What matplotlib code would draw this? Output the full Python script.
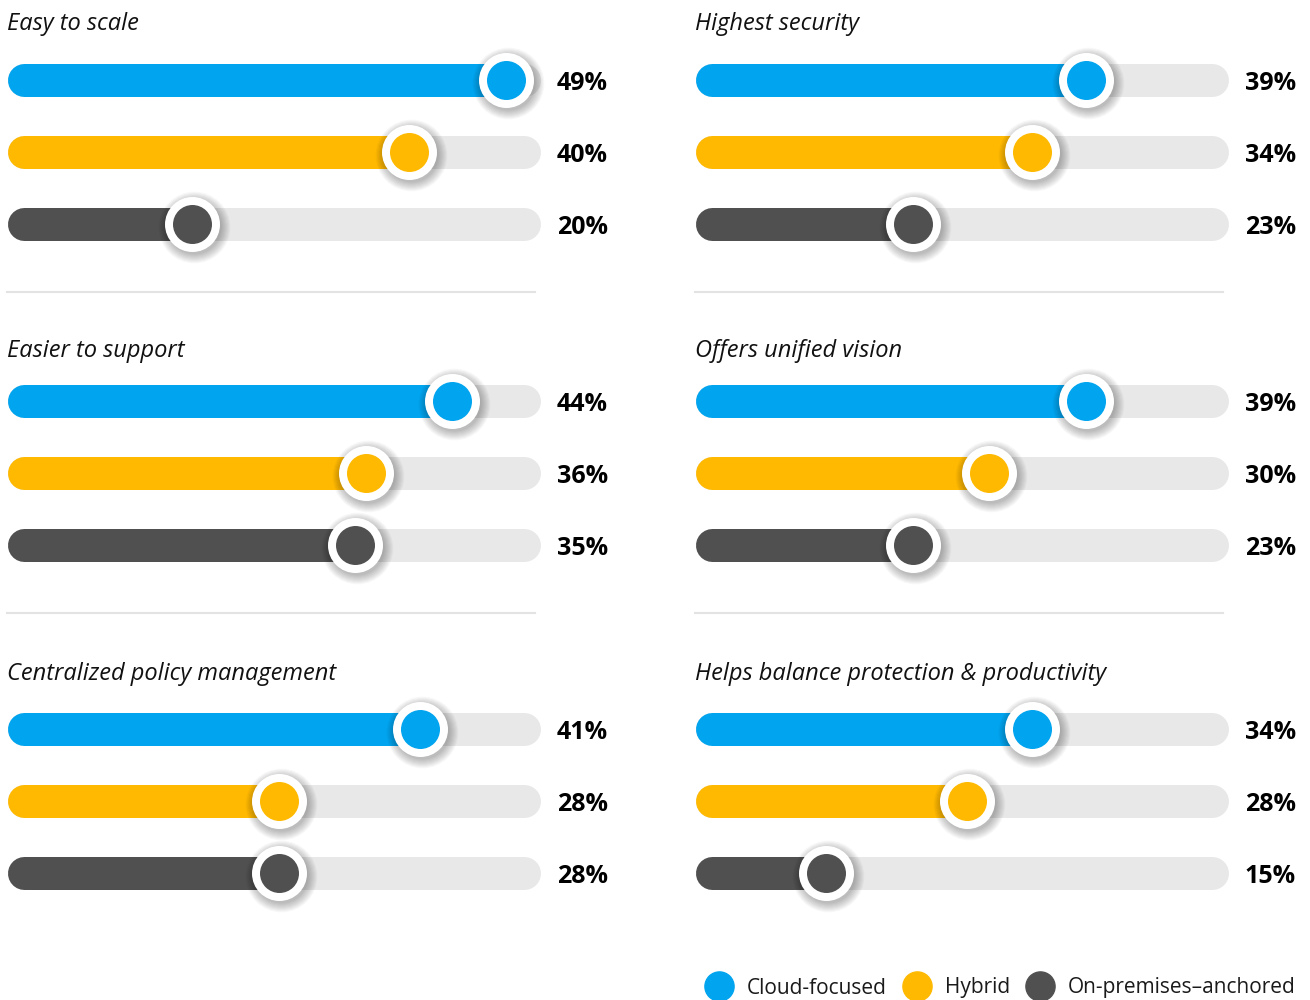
import matplotlib
matplotlib.use("Agg")
import matplotlib.pyplot as plt
from matplotlib.lines import Line2D
from matplotlib.transforms import offset_copy

# ---- data ----
categories = ["Easy to scale", "Highest security",
              "Easier to support", "Offers unified vision",
              "Centralized policy management", "Helps balance protection & productivity"]
series_names = ["Cloud-focused", "Hybrid", "On-premises\u2013anchored"]
cloud = [49, 39, 44, 39, 41, 34]
hybrid = [40, 34, 36, 30, 28, 28]
onprem = [20, 23, 35, 23, 28, 15]

colors = ["#00A4EF", "#FFB900", "#505050"]
track_color = "#E8E8E8"
XLIM = (2.9, 52.1)

W, H = 1310, 1000
fig = plt.figure(figsize=(W / 100, H / 100), dpi=100)
fig.patch.set_facecolor("white")

FONT = "Open Sans"

col_left = [7, 695]
row_top = [80, 401, 729]
title_base = [30, 357, 680]
ax_w = 533
pitch = 72
bar_px = 33
lw_pt = bar_px * 72 / 100

def fx(px):
    return px / W

def fy(py):
    return 1 - py / H

for i, cat in enumerate(categories):
    r, c = divmod(i, 2)
    left = col_left[c]
    top = row_top[r] - pitch / 2
    ax = fig.add_axes([fx(left), fy(top + 3 * pitch), fx(ax_w), 3 * pitch / H])
    ax.set_xlim(*XLIM)
    ax.set_ylim(2.5, -0.5)
    ax.axis("off")
    px_per_unit = ax_w / (XLIM[1] - XLIM[0])
    rad = (bar_px / 2) / px_per_unit
    start = XLIM[0] + rad
    end = XLIM[1] - rad
    vals = [cloud[i], hybrid[i], onprem[i]]
    shadow_tr = offset_copy(ax.transData, fig=fig, x=2, y=-3, units="dots")
    label_tr = offset_copy(ax.get_yaxis_transform(), fig=fig, x=0, y=-10, units="dots")
    for k, (v, col) in enumerate(zip(vals, colors)):
        ax.plot([start, end], [k, k], color=track_color, lw=lw_pt,
                solid_capstyle="round", zorder=1, clip_on=False)
        ax.plot([start, v], [k, k], color=col, lw=lw_pt,
                solid_capstyle="round", zorder=2, clip_on=False)
        for j in range(9):
            d = (54 + 2.2 * j) * 0.72
            ax.scatter([v], [k], s=d ** 2, color="black", alpha=0.032,
                       linewidths=0, zorder=3, transform=shadow_tr, clip_on=False)
        ax.scatter([v], [k], s=(55 * 0.72) ** 2, color="white",
                   linewidths=0, zorder=4, clip_on=False)
        ax.scatter([v], [k], s=(39 * 0.72) ** 2, color=col,
                   linewidths=0, zorder=5, clip_on=False)
        ax.text(1 + 68 / ax_w, k, f"{v}%", transform=label_tr,
                ha="right", va="baseline", fontsize=18, fontweight="bold",
                family=FONT, color="black")
    # title
    fig.text(fx(left), fy(title_base[r]), cat, ha="left", va="baseline",
             fontsize=17, style="italic", family=FONT, color="#111111")

# separators
for py in [292, 613]:
    for c in range(2):
        fig.add_artist(Line2D([fx(col_left[c]), fx(col_left[c] + 528)], [fy(py), fy(py)],
                              color="#E3E3E3", lw=1.5))

# legend
handles = [Line2D([], [], marker="o", ls="", markersize=21, color=col)
           for col in colors]
leg = fig.legend(handles, series_names, loc="center right",
                 bbox_to_anchor=(fx(1304), fy(988)), ncol=3, frameon=False,
                 handletextpad=0.85, columnspacing=0.94, handlelength=1.0,
                 borderaxespad=0, prop={"family": FONT, "size": 15})
for t in leg.get_texts():
    t.set_color("#1a1a1a")

fig.savefig("out.png", dpi=100, facecolor="white")
